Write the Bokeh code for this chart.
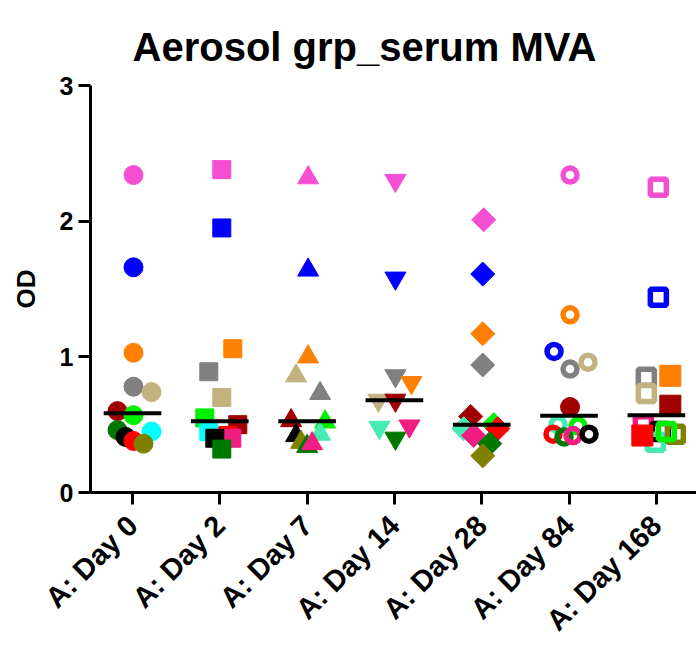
import numpy as np
from bokeh.plotting import figure
from bokeh.models import ColumnDataSource, FixedTicker, Range1d
from bokeh.embed import file_html
from bokeh.resources import INLINE

# ---------------- data ----------------
categories = ["A: Day 0", "A: Day 2", "A: Day 7", "A: Day 14", "A: Day 28", "A: Day 84", "A: Day 168"]

PINK = "#F44FD2"; BLUE = "#0000FF"; ORANGE = "#FF8000"; GRAY = "#808080"; TAN = "#C2B280"
DRED = "#A00000"; LIME = "#00F000"; DGREEN = "#007800"; BLACK = "#000000"; RED = "#FF0000"
CYAN = "#00FFFF"; OLIVE = "#808000"; DPINK = "#F01E82"; AQUA = "#45EBB2"

day0_od = [2.34, 1.66, 1.03, 0.78, 0.74, 0.60, 0.57, 0.46, 0.41, 0.38, 0.45, 0.36]
day0_colors = [PINK, BLUE, ORANGE, GRAY, TAN, DRED, LIME, DGREEN, BLACK, RED, CYAN, OLIVE]

day2_od = [2.38, 1.95, 1.06, 0.89, 0.70, 0.55, 0.50, 0.45, 0.42, 0.40, 0.40, 0.32]
day2_colors = [PINK, BLUE, ORANGE, GRAY, TAN, LIME, DRED, CYAN, RED, DPINK, BLACK, DGREEN]

day7_od = [2.32, 1.64, 1.00, 0.86, 0.73, 0.53, 0.52, 0.42, 0.43, 0.37, 0.34, 0.36]
day7_colors = [PINK, BLUE, ORANGE, TAN, GRAY, DRED, LIME, BLACK, AQUA, OLIVE, DGREEN, DPINK]

day14_od = [2.30, 1.58, 0.86, 0.81, 0.68, 0.68, 0.48, 0.40, 0.49]
day14_colors = [PINK, BLUE, GRAY, ORANGE, TAN, DRED, AQUA, DGREEN, DPINK]

day28_od = [2.01, 1.61, 1.17, 0.94, 0.56, 0.47, 0.42, 0.50, 0.47, 0.36, 0.27]
day28_colors = [PINK, BLUE, ORANGE, GRAY, DRED, AQUA, DPINK, LIME, RED, DGREEN, OLIVE]

day84_od = [2.34, 1.31, 1.04, 0.91, 0.96, 0.63, 0.50, 0.43, 0.49, 0.41, 0.42, 0.43]
day84_colors = [PINK, ORANGE, BLUE, GRAY, TAN, DRED, AQUA, RED, LIME, DGREEN, DPINK, BLACK]

day168_od = [2.25, 1.44, 0.86, 0.85, 0.73, 0.64, 0.50, 0.42, 0.45, 0.37, 0.43, 0.45]
day168_colors = [PINK, BLUE, ORANGE, GRAY, TAN, DRED, DPINK, RED, BLACK, AQUA, OLIVE, LIME]

# ---------------- layout helpers (horizontal scatter offsets, px) ----------------
day0_dx = [1, 1, 1, 1, 19, -15, 1, -15, -7, 1, 19, 11]
day2_dx = [2, 2, 13, -11, 2, -15, 18, -11, 8, 12, -5, 2]
day7_dx = [1, 1, 1, -11, 13, -16, 18, -11, 13, -6, 0, 5]
day14_dx = [1, 1, 1, 17, -16, 1, -15, 1, 15]
day28_dx = [2, 1, 1, 1, -11, -18, -8, 12, 16, 8, 1]
day84_dx = [1, 1, -15, 1, 19, 1, -11, -16, 9, -5, 4, 20]
day168_dx = [2, 2, 14, -10, -10, 14, -13, -14, 4, -1, 19, 10]
day84_filled = [False, False, False, False, False, True, False, False, False, False, False, False]
day168_filled = [False, False, True, False, False, True, False, True, False, False, False, False]

PX_PER_CAT = 87.3
FONT = "Liberation Sans"

p = figure(width=696, height=650, output_backend="svg", toolbar_location=None,
           x_range=Range1d(-0.481, 6.46), y_range=Range1d(0, 3),
           min_border_left=90, min_border_right=0, min_border_top=85, min_border_bottom=156)
p.outline_line_color = None
p.grid.visible = False
p.background_fill_color = "white"
p.border_fill_color = "white"

p.title.text = "Aerosol grp_serum MVA"
p.title.text_font = FONT
p.title.text_font_size = "40px"
p.title.text_font_style = "bold"
p.title.text_color = "black"
p.title.align = "left"
p.title.offset = 42
p.title.standoff = 33

days = [
    (day0_od, day0_colors, day0_dx, None, dict(marker="circle", size=19)),
    (day2_od, day2_colors, day2_dx, None, dict(marker="square", size=18)),
    (day7_od, day7_colors, day7_dx, None, dict(marker="triangle", size=21)),
    (day14_od, day14_colors, day14_dx, None, dict(marker="inverted_triangle", size=21)),
    (day28_od, day28_colors, day28_dx, None, dict(marker="square", size=17, angle=np.pi / 4)),
    (day84_od, day84_colors, day84_dx, day84_filled, dict(marker="circle", size=14)),
    (day168_od, day168_colors, day168_dx, day168_filled, dict(marker="square", size=16)),
]

for i, (od, cols, dx, filled, mk) in enumerate(days):
    xs = [i + d / PX_PER_CAT for d in dx]
    if filled is None:
        src = ColumnDataSource(dict(x=xs, y=od, c=cols))
        p.scatter("x", "y", source=src, fill_color="c", line_color="c", line_width=1, **mk)
    else:
        fx = [x for x, f in zip(xs, filled) if f]
        fy = [y for y, f in zip(od, filled) if f]
        fc = [c for c, f in zip(cols, filled) if f]
        ox = [x for x, f in zip(xs, filled) if not f]
        oy = [y for y, f in zip(od, filled) if not f]
        oc = [c for c, f in zip(cols, filled) if not f]
        p.scatter(ox, oy, fill_color=None, line_color=oc, line_width=5.5, **mk)
        mk2 = dict(mk)
        mk2["size"] = mk["size"] + 5
        p.scatter(fx, fy, fill_color=fc, line_color=fc, line_width=1, **mk2)
    med = float(np.median(od))
    p.segment(x0=[i - 0.33], x1=[i + 0.33], y0=[med], y1=[med], line_color="black", line_width=4)

# axes
for ax in (p.xaxis[0], p.yaxis[0]):
    ax.axis_line_width = 3
    ax.axis_line_color = "black"
    ax.major_tick_line_width = 3
    ax.major_tick_line_color = "black"
    ax.major_tick_out = 12
    ax.major_tick_in = 0
    ax.minor_tick_out = 0
    ax.minor_tick_in = 0
    ax.major_label_text_font = FONT
    ax.major_label_text_font_style = "bold"
    ax.major_label_text_color = "black"

p.yaxis.major_label_text_font_size = "25px"
p.xaxis.major_label_text_font_size = "29px"

p.yaxis.ticker = FixedTicker(ticks=[0, 1, 2, 3])
p.yaxis.axis_label = "OD"
p.yaxis.axis_label_text_font = FONT
p.yaxis.axis_label_text_font_style = "bold"
p.yaxis.axis_label_text_font_size = "26px"
p.yaxis.axis_label_text_color = "black"
p.yaxis.axis_label_standoff = 16

p.xaxis.ticker = FixedTicker(ticks=list(range(len(categories))))
p.xaxis.major_label_overrides = {i: c for i, c in enumerate(categories)}
p.xaxis.major_label_orientation = np.pi / 4
p.xaxis.major_label_standoff = 16

open("out.html", "w").write(file_html(p, INLINE))
